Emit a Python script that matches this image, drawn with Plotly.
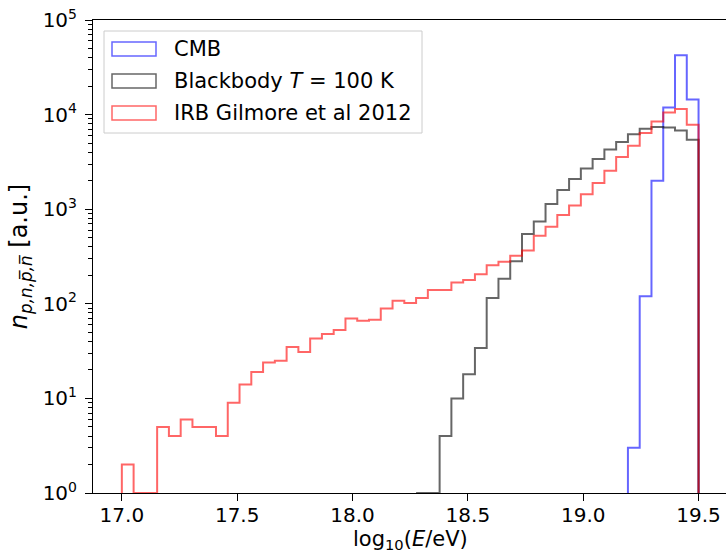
import numpy as np
import plotly.graph_objects as go

# Histogram bin edges: 49 bins between 17.0 and 19.5 in log10(E/eV)
bin_edges = np.linspace(17.0, 19.5, 50)

cmb_counts = [0] * 43 + [3, 120, 2000, 11900, 42300, 14400]

blackbody_counts = [0] * 25 + [1, 0, 4, 10, 18, 34, 115, 184, 281, 547, 743, 1135,
                               1600, 2085, 2700, 3395, 4285, 5130, 6180, 7100, 7390,
                               7300, 6810, 5430]

irb_counts = [2, 0, 0, 5, 4, 6, 5, 5, 4, 9, 14, 19, 24, 25, 35, 31, 43, 48, 53, 70,
              66, 68, 89, 108, 102, 115, 140, 140, 168, 178, 205, 255, 279, 322, 367,
              525, 653, 868, 1097, 1435, 1892, 2553, 3564, 4693, 6395, 8477, 10550,
              11460, 7820]

series_names = ["CMB", "Blackbody <i>T</i> = 100 K", "IRB Gilmore et al 2012"]
series_counts = [cmb_counts, blackbody_counts, irb_counts]
series_colors = ["rgba(0,0,255,0.6)", "rgba(0,0,0,0.6)", "rgba(255,0,0,0.6)"]

y_tick_vals = [1, 10, 100, 1000, 10000, 100000]
y_tick_text = ["10<sup>0</sup>", "10<sup>1</sup>", "10<sup>2</sup>", "10<sup>3</sup>",
               "10<sup>4</sup>", "10<sup>5</sup>"]
x_tick_vals = [17.0, 17.5, 18.0, 18.5, 19.0, 19.5]
x_tick_text = ["17.0", "17.5", "18.0", "18.5", "19.0", "19.5"]

x_title = "log<sub>10</sub>(<i>E</i>/eV)"
y_title = "<i>n</i><sub><i>p,n,p̅,n̅</i></sub> [a.u.]"

BASE = 1  # bottom of the log axis (zero counts drawn on the baseline)

W, H = 726, 554
ML, MR, MT, MB = 93, 0, 20, 61
PW, PH = W - ML - MR, H - MT - MB


def step_outline(edges, counts):
    counts = list(counts)
    first = next(i for i, c in enumerate(counts) if c > 0)
    vals = [c if c > 0 else BASE for c in counts]
    xs = [edges[first]] + list(edges[first:-1]) + [edges[-1], edges[-1]]
    ys = [BASE] + vals[first:] + [vals[-1], BASE]
    return xs, ys


fig = go.Figure()
for name, counts, color in zip(series_names, series_counts, series_colors):
    xs, ys = step_outline(bin_edges, counts)
    fig.add_trace(go.Scatter(x=xs, y=ys, mode="lines", line_shape="hv", name=name,
                             line=dict(color=color, width=2), showlegend=False))


def px_x(p):
    return (p - ML) / PW


def px_y(p):
    return 1 - (p - MT) / PH


# legend (matplotlib style: frame, wide rectangle handles, labels)
shapes = [dict(type="rect", xref="paper", yref="paper",
               x0=px_x(104), x1=px_x(422), y0=px_y(133), y1=px_y(31),
               line=dict(color="#cccccc", width=1), fillcolor="rgba(255,255,255,0.8)",
               layer="above")]
annotations = []
row_y = [49, 81, 113]
for name, color, ry in zip(series_names, series_colors, row_y):
    shapes.append(dict(type="rect", xref="paper", yref="paper",
                       x0=px_x(112), x1=px_x(156), y0=px_y(ry + 7), y1=px_y(ry - 7),
                       line=dict(color=color, width=1.5), fillcolor="rgba(0,0,0,0)",
                       layer="above"))
    annotations.append(dict(text=name, xref="paper", yref="paper", x=px_x(172),
                            y=px_y(ry), xanchor="left", yanchor="middle",
                            showarrow=False, font=dict(size=21)))

# x-axis title
annotations.append(dict(text=x_title, xref="paper", yref="paper", x=px_x(410),
                        y=px_y(540), xanchor="center", yanchor="middle",
                        showarrow=False, font=dict(size=21)))

minor_vals = [m * 10 ** k for k in range(5) for m in range(2, 10)]

fig.update_layout(
    width=W, height=H,
    margin=dict(l=ML, r=MR, t=MT, b=MB),
    paper_bgcolor="white", plot_bgcolor="white",
    font=dict(family="DejaVu Sans", size=20, color="black"),
    showlegend=False,
    shapes=shapes, annotations=annotations,
    xaxis=dict(range=[16.875, 19.619], tickvals=x_tick_vals, ticktext=x_tick_text,
               ticks="outside", ticklen=7, tickwidth=1, tickcolor="black",
               ticklabelstandoff=-3,
               showline=True, linecolor="black", linewidth=1, mirror=True,
               showgrid=False, zeroline=False, automargin=False),
    yaxis=dict(type="log", range=[0, 5], tickvals=y_tick_vals, ticktext=y_tick_text,
               ticks="outside", ticklen=7, tickwidth=1, tickcolor="black",
               ticklabelstandoff=4,
               minor=dict(tickvals=minor_vals, ticks="outside", ticklen=4,
                          tickwidth=0.8, tickcolor="black", showgrid=False),
               showline=True, linecolor="black", linewidth=1, mirror=False,
               showgrid=False, zeroline=False, automargin=False,
               title=dict(text=y_title, standoff=8)),
)

fig.write_html("out.html", config={"displayModeBar": False},
               post_script="document.body.style.margin='0px';"
                           "document.body.style.overflow='hidden';")
